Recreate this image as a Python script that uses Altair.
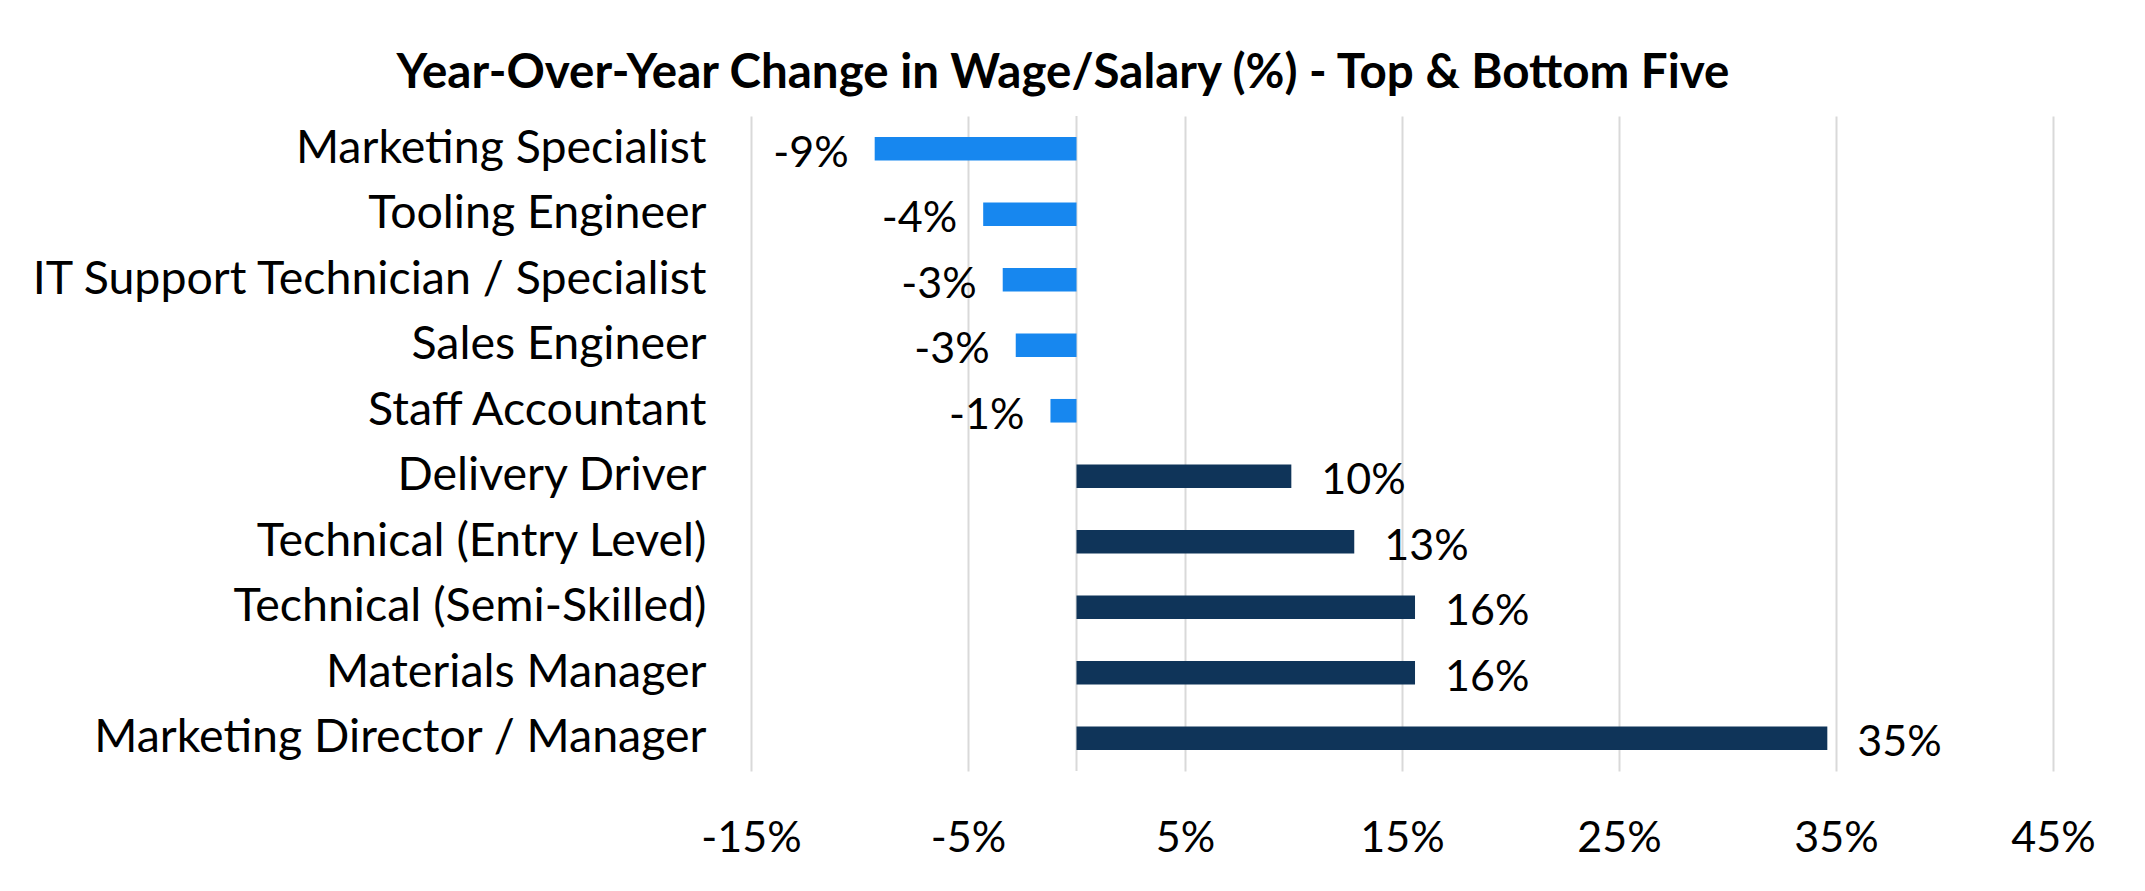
import altair as alt
import pandas as pd

categories = [
    "Marketing Specialist",
    "Tooling Engineer",
    "IT Support Technician / Specialist",
    "Sales Engineer",
    "Staff Accountant",
    "Delivery Driver",
    "Technical (Entry Level)",
    "Technical (Semi-Skilled)",
    "Materials Manager",
    "Marketing Director / Manager",
]
values = [-9.3, -4.3, -3.4, -2.8, -1.2, 9.9, 12.8, 15.6, 15.6, 34.6]
groups = ["Bottom"] * 5 + ["Top"] * 5
tick_values = [-15, -5, 5, 15, 25, 35, 45]

df = pd.DataFrame({"job": categories, "value": values, "group": groups})

FONT = "Lato"
GRID = "#d9d9d9"

y_enc = alt.Y(
    "job:N",
    sort=categories,
    title=None,
    scale=alt.Scale(paddingInner=0.64, paddingOuter=0.32),
    axis=alt.Axis(
        labelFontSize=46.5,
        labelFont=FONT,
        labelColor="#000000",
        labelPadding=45,
        ticks=False,
        domain=False,
        grid=False,
        labelLimit=1000,
    ),
)
x_scale = alt.Scale(domain=[-15, 45], nice=False, zero=False)

bars = alt.Chart(df).mark_bar().encode(
    y=y_enc,
    x=alt.X(
        "value:Q",
        scale=x_scale,
        title=None,
        axis=alt.Axis(
            values=tick_values,
            labelExpr="datum.value + '%'",
            labelFontSize=43,
            labelFont=FONT,
            labelColor="#000000",
            labelPadding=46,
            labelFlush=False,
            labelOverlap=False,
            ticks=False,
            domain=False,
            grid=True,
            gridColor=GRID,
            gridWidth=2,
        ),
    ),
    x2=alt.datum(0),
    color=alt.Color(
        "group:N",
        scale=alt.Scale(domain=["Bottom", "Top"], range=["#1787EF", "#0F3459"]),
        legend=None,
    ),
)

zero_rule = alt.Chart(pd.DataFrame({"z": [0]})).mark_rule(color=GRID, strokeWidth=2).encode(
    x=alt.X("z:Q", scale=x_scale)
)

label_base = alt.Chart(df).transform_calculate(
    label="round(datum.value) + '%'"
)

neg_labels = label_base.transform_filter("datum.value < 0").mark_text(
    align="right", baseline="middle", dx=-26, dy=5, fontSize=43, font=FONT, color="#000000"
).encode(
    y=alt.Y("job:N", sort=categories),
    x=alt.X("value:Q", scale=x_scale),
    text="label:N",
)

pos_labels = label_base.transform_filter("datum.value >= 0").mark_text(
    align="left", baseline="middle", dx=30, dy=5, fontSize=43, font=FONT, color="#000000"
).encode(
    y=alt.Y("job:N", sort=categories),
    x=alt.X("value:Q", scale=x_scale),
    text="label:N",
)

chart = (
    alt.layer(zero_rule, bars, neg_labels, pos_labels)
    .properties(
        width=1302,
        height=655,
        background="white",
        title=alt.TitleParams(
            "Year-Over-Year Change in Wage/Salary (%) - Top & Bottom Five",
            font=FONT,
            fontSize=47.5,
            fontWeight="bold",
            color="#000000",
            anchor="middle",
            dx=-339,
            offset=18,
        ),
        autosize=alt.AutoSizeParams(type="none"),
        padding={"left": 743, "top": 108, "right": 84, "bottom": 100},
    )
    .configure_view(stroke="transparent", strokeWidth=0)
    .configure_axis(domain=False, ticks=False)
)

chart.save("out.html", embed_options={"renderer": "svg", "actions": False})
